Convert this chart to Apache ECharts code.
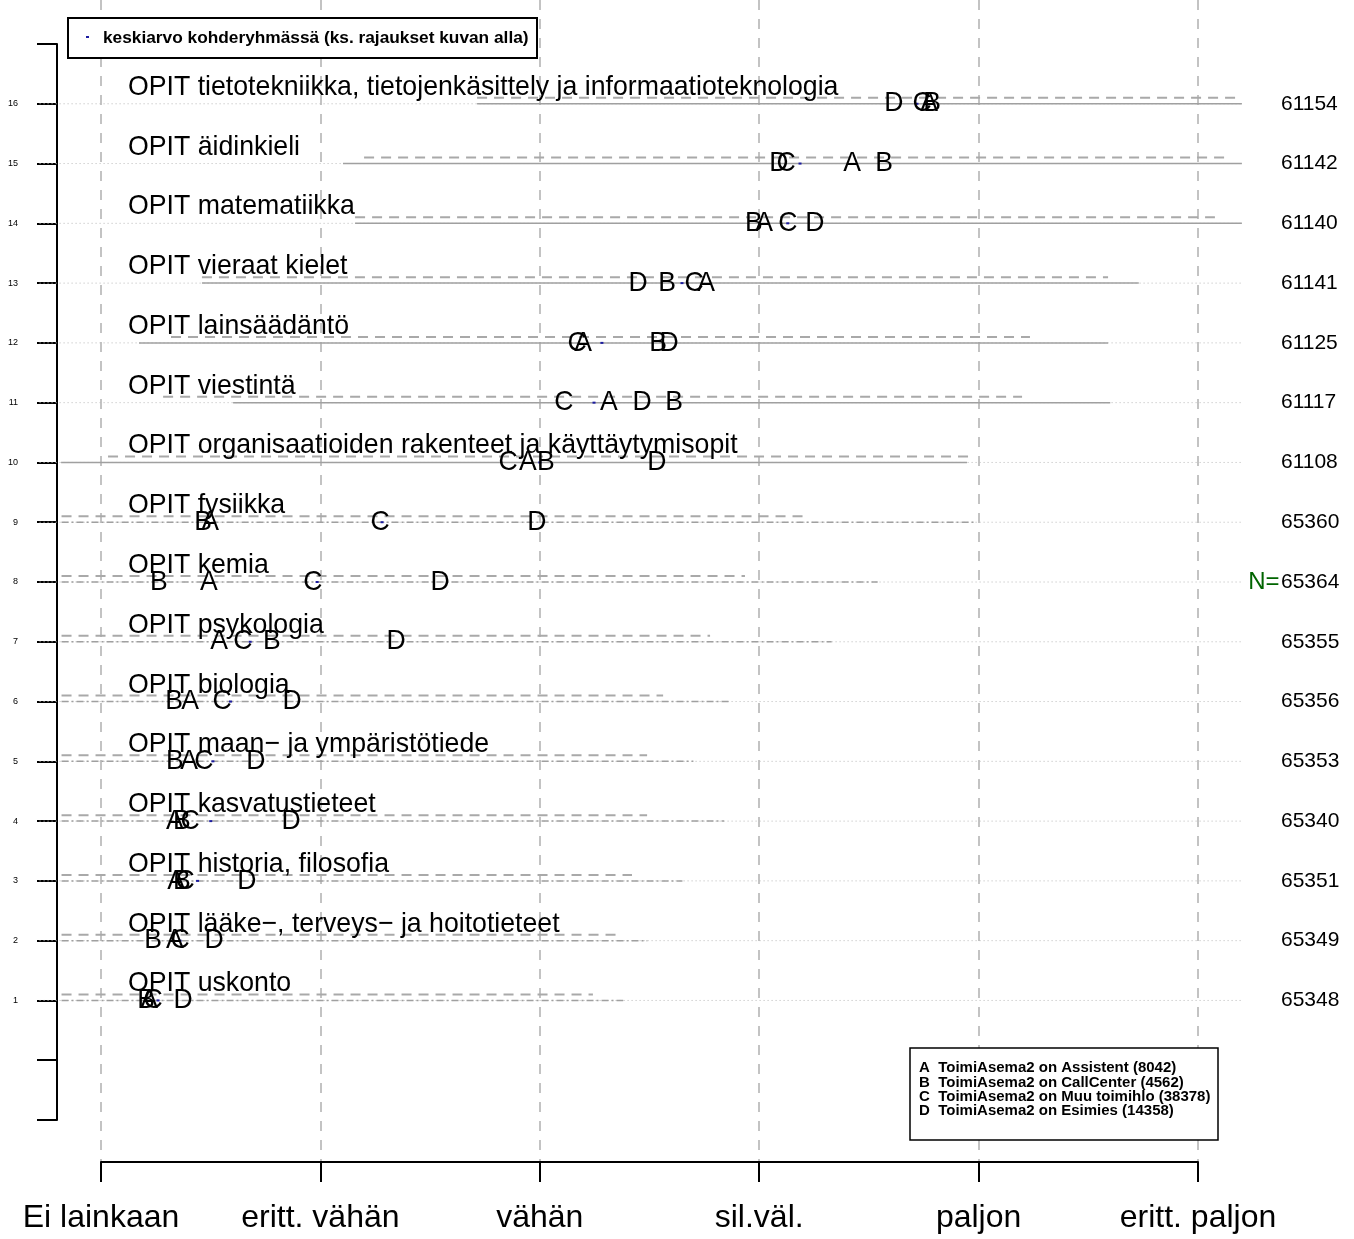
<!DOCTYPE html>
<html><head><meta charset="utf-8">
<script src="https://cdn.jsdelivr.net/npm/echarts@6/dist/echarts.min.js"></script>
<style>html,body{margin:0;padding:0;background:#fff}#c{width:1354px;height:1239px}</style>
</head><body><div id="c"></div>
<script>
// rows listed bottom (y=1) to top (y=16)
const rowLabels = [
  "OPIT uskonto",
  "OPIT lääke−, terveys− ja hoitotieteet",
  "OPIT historia, filosofia",
  "OPIT kasvatustieteet",
  "OPIT maan− ja ympäristötiede",
  "OPIT biologia",
  "OPIT psykologia",
  "OPIT kemia",
  "OPIT fysiikka",
  "OPIT organisaatioiden rakenteet ja käyttäytymisopit",
  "OPIT viestintä",
  "OPIT lainsäädäntö",
  "OPIT vieraat kielet",
  "OPIT matematiikka",
  "OPIT äidinkieli",
  "OPIT tietotekniikka, tietojenkäsittely ja informaatioteknologia"
];
const nValues = [65348, 65349, 65351, 65340, 65353, 65356, 65355, 65364, 65360, 61108, 61117, 61125, 61141, 61140, 61142, 61154];
const groupA = [1.219, 1.337, 1.342, 1.337, 1.401, 1.406, 1.538, 1.492, 1.497, 2.946, 3.315, 3.197, 3.758, 4.022, 4.423, 4.774];
const groupB = [1.205, 1.237, 1.369, 1.369, 1.337, 1.333, 1.779, 1.264, 1.465, 3.028, 3.612, 3.539, 3.580, 3.976, 4.569, 4.788];
const groupC = [1.237, 1.360, 1.383, 1.406, 1.469, 1.552, 1.647, 1.966, 2.272, 2.855, 3.110, 3.170, 3.703, 4.131, 4.122, 4.742];
const groupD = [1.374, 1.515, 1.665, 1.866, 1.706, 1.871, 2.345, 2.545, 2.987, 3.534, 3.466, 3.589, 3.448, 4.254, 4.090, 4.614];
const meanAll = [1.26, 1.36, 1.44, 1.50, 1.51, 1.59, 1.68, 1.985, 2.281, 3.00, 3.247, 3.283, 3.648, 4.13, 4.186, 4.719];
const dashLo = [0.82, 0.82, 0.82, 0.82, 0.82, 0.82, 0.82, 0.82, 0.82, 1.032, 1.283, 1.319, 1.460, 2.158, 2.199, 2.714];
const dashHi = [3.242, 3.347, 3.420, 3.489, 3.489, 3.562, 3.776, 3.935, 4.218, 4.965, 5.198, 5.234, 5.590, 6.077, 6.132, 6.2];
const solidLo = [0.82, 0.82, 0.82, 0.82, 0.82, 0.82, 0.82, 0.82, 0.82, 0.818, 1.602, 1.173, 1.46, 2.158, 2.103, 2.714];
const solidHi = [3.38, 3.49, 3.65, 3.84, 3.70, 3.86, 4.33, 4.54, 4.98, 4.947, 5.6, 5.59, 5.73, 6.2, 6.2, 6.2];
const xTickLabels = ['Ei lainkaan', 'eritt. vähän', 'vähän', 'sil.väl.', 'paljon', 'eritt. paljon'];
const groupLetters = ['A', 'B', 'C', 'D'];
const groupNames = ['ToimiAsema2 on Assistent (8042)', 'ToimiAsema2 on CallCenter (4562)', 'ToimiAsema2 on Muu toimihlo (38378)', 'ToimiAsema2 on Esimies (14358)'];
const legendTitle = 'keskiarvo kohderyhmässä (ks. rajaukset kuvan alla)';
const nPrefix = 'N=';
const nPrefixRow = 8;

const FONT = '"Liberation Sans", Arial, Helvetica, sans-serif';
const chart = echarts.init(document.getElementById('c'), null, { renderer: 'canvas' });
const rowY = rowLabels.map((_, i) => i + 1);
const groups = [groupA, groupB, groupC, groupD];

function lineSeries(data, style) {
  return {
    type: 'custom', xAxisIndex: 0, yAxisIndex: 0, silent: true, clip: false,
    encode: { x: [0, 1], y: 2 },
    data: data,
    renderItem: (params, api) => {
      const p1 = api.coord([api.value(0), api.value(2)]);
      const p2 = api.coord([api.value(1), api.value(2)]);
      return { type: 'line', shape: { x1: p1[0], y1: p1[1], x2: p2[0], y2: p2[1] }, style: Object.assign({ fill: null }, style) };
    }
  };
}
function textSeries(data, texts, st) {
  return {
    type: 'custom', xAxisIndex: 0, yAxisIndex: 0, silent: true, clip: false,
    encode: { x: 0, y: 1 },
    data: data,
    z: 5,
    renderItem: (params, api) => {
      const p = api.coord([api.value(0), api.value(1)]);
      return {
        type: 'text', x: p[0], y: p[1],
        scaleX: st.scaleX || 1,
        style: {
          text: String(texts[params.dataIndex]), fill: st.color || '#000',
          fontSize: st.size, fontFamily: FONT, fontWeight: st.weight || 'normal',
          align: st.align || 'center', verticalAlign: 'middle'
        }
      };
    }
  };
}

const series = [];
// light dotted guide across the whole row
series.push(lineSeries(rowY.map(y => [0.72, 6.2, y]), { stroke: '#b8b8b8', lineWidth: 1, lineDash: [1, 3] }));
// dashed range line just above row
series.push(lineSeries(rowY.map((y, i) => [dashLo[i], dashHi[i], y + 0.1]), { stroke: '#a9a9a9', lineWidth: 2, lineDash: [10, 7] }));
// range line on the row
series.push(lineSeries(rowY.map((y, i) => [solidLo[i], solidHi[i], y]).filter(d => d[2] >= 10), { stroke: '#a0a0a0', lineWidth: 1.5 }));
series.push(lineSeries(rowY.map((y, i) => [solidLo[i], solidHi[i], y]).filter(d => d[2] < 10), { stroke: '#a0a0a0', lineWidth: 1.5, lineDash: [7, 3, 2, 3] }));
// mean markers
series.push({
  type: 'custom', xAxisIndex: 0, yAxisIndex: 0, silent: true, clip: false,
  encode: { x: 0, y: 1 }, data: rowY.map((y, i) => [meanAll[i], y]), z: 4,
  renderItem: (params, api) => {
    const p = api.coord([api.value(0), api.value(1)]);
    return { type: 'rect', shape: { x: p[0] - 1.5, y: p[1] - 1, width: 3, height: 2 }, style: { fill: '#1c1ca0' } };
  }
});
// group letters
groups.forEach((g, gi) => {
  series.push(textSeries(rowY.map((y, i) => [g[i], y]), rowY.map(() => groupLetters[gi]), { size: 28, scaleX: 0.95 }));
});
// row labels
series.push(textSeries(rowY.map(y => [1.123, y + 0.28]), rowLabels, { size: 28, align: 'left', scaleX: 0.953 }));
// N values
series.push(textSeries(rowY.map(y => [6.378, y]), nValues, { size: 21, align: 'left' }));
series.push(textSeries([[6.372, nPrefixRow]], [nPrefix], { size: 24, align: 'right', color: '#006400' }));

chart.setOption({
  animation: false,
  backgroundColor: '#fff',
  grid: [
    { left: 35.2, top: 44, width: 1316.4, height: 1076 },
    { left: 101, top: 0, width: 1097, height: 1162 },
    { left: 57, top: 44, width: 1, height: 1076 }
  ],
  xAxis: [
    { gridIndex: 0, type: 'value', min: 0.7, max: 6.7, show: false },
    {
      gridIndex: 1, type: 'value', min: 1, max: 6, interval: 1, position: 'bottom',
      axisLine: { show: true, lineStyle: { color: '#000', width: 2 } },
      axisTick: { show: true, length: 20, lineStyle: { color: '#000', width: 2 } },
      axisLabel: { margin: 40, fontSize: 32, color: '#000', fontFamily: FONT, formatter: v => xTickLabels[Math.round(v) - 1] || '' },
      splitLine: { show: true, lineStyle: { color: '#b0b0b0', width: 1.5, type: [10, 9] } }
    },
    { gridIndex: 2, type: 'value', min: 0, max: 1, show: false }
  ],
  yAxis: [
    { gridIndex: 0, type: 'value', min: -1, max: 17, show: false },
    { gridIndex: 1, type: 'value', min: 0, max: 1, show: false },
    {
      gridIndex: 2, type: 'value', min: -1, max: 17, interval: 1, position: 'left',
      axisLine: { show: true, lineStyle: { color: '#000', width: 2 } },
      axisTick: { show: true, length: 20, lineStyle: { color: '#000', width: 2 } },
      axisLabel: { margin: 39, fontSize: 9, color: '#000', fontFamily: FONT, formatter: v => (v >= 1 && v <= 16) ? String(v) : '' },
      splitLine: { show: false }
    }
  ],
  graphic: [
    { type: 'rect', shape: { x: 68, y: 18, width: 469, height: 40 }, style: { fill: '#fff', stroke: '#000', lineWidth: 2 }, z: 10 },
    { type: 'rect', shape: { x: 86, y: 36, width: 3, height: 2 }, style: { fill: '#1c1ca0' }, z: 11 },
    { type: 'text', x: 103, y: 38, style: { text: legendTitle, fontSize: 17.3, fontWeight: 'bold', fontFamily: FONT, fill: '#000', verticalAlign: 'middle' }, z: 11 },
    { type: 'rect', shape: { x: 910, y: 1048, width: 308, height: 92 }, style: { fill: '#fff', stroke: '#000', lineWidth: 1.5 }, z: 10 },
    ...groupLetters.map((L, i) => ({
      type: 'text', x: 919, y: 1068 + i * 14.4,
      style: { text: L + '  ' + groupNames[i], fontSize: 15, fontWeight: 'bold', fontFamily: FONT, fill: '#000', verticalAlign: 'middle' }, z: 11
    }))
  ],
  series: series
});
</script></body></html>
